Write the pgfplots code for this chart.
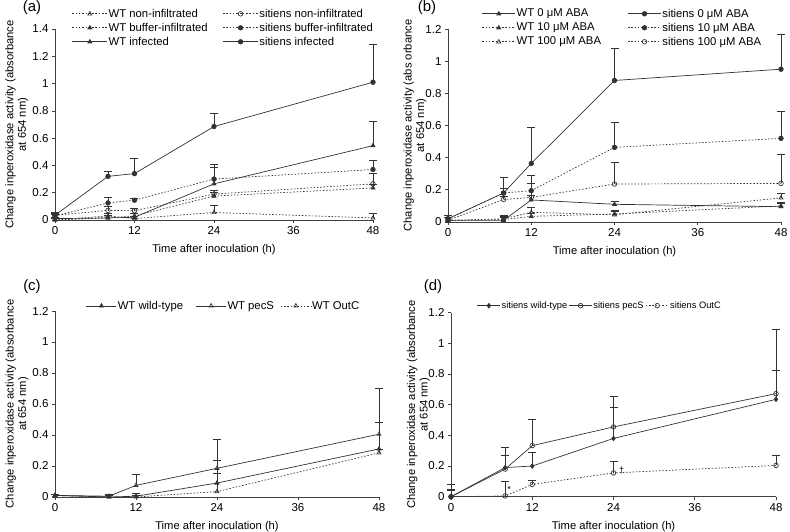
\documentclass[border=0pt]{standalone}
\usepackage{pgfplots}
\pgfplotsset{compat=1.18}
\usepackage{fontspec}
\setmainfont{Liberation Sans}
\pgfplotsset{
  panel/.style={
    scale only axis, axis lines=left, axis line style={-, line width=0.8pt, black!75},
    xmin=0, xmax=48, ymin=0, xtick={0,12,24,36,48},
    tick align=outside, major tick length=3pt, tick style={line width=0.7pt, black!75},
    tick label style={font=\fontsize{11.5}{13}\selectfont},
    /pgf/number format/assume math mode=true,
    xlabel={Time after inoculation (h)},
    xlabel style={yshift=-3pt},
    label style={font=\fontsize{11.2}{12.5}\selectfont},
    ylabel style={align=center, anchor=center},
    clip=false,
    legend style={draw=none, fill=none, font=\fontsize{11.3}{12.5}\selectfont, anchor=north west, inner sep=0pt, outer sep=0pt, nodes={inner sep=1pt}, row sep=2.3pt},
    legend cell align=left,
  },
  limg/.style={legend image code/.code={\draw[mark repeat=2,mark phase=2,##1] plot coordinates {(0pt,0pt) (#1*0.5pt,0pt) (#1*1pt,0pt)};}},
  ser/.style={black!80, line width=0.7pt, mark size=2.3pt,
    error bars/y dir=plus, error bars/y explicit,
    error bars/error bar style={solid, line width=0.6pt, black!80},
    error bars/error mark options={solid, rotate=90, mark size=4pt, line width=0.6pt, black!80}},
  dot/.style={dash pattern=on 1.5pt off 1.8pt},
  ftri/.style={mark=triangle*, mark options={solid, fill=black!80}},
  otri/.style={mark=triangle, mark options={solid, fill=white}},
  fcirc/.style={mark=*, mark options={solid, fill=black!80}},
  ocirc/.style={mark=o, mark options={solid, fill=white}},
  fdia/.style={mark=diamond*, mark options={solid, fill=black!80}},
}
\begin{document}
\begin{tikzpicture}[x=1pt,y=1pt]
\useasboundingbox (0,0) rectangle (790,532);
\node[font=\fontsize{15}{17}\selectfont] at (32,524) {(a)};
\node[font=\fontsize{15}{17}\selectfont] at (427,524) {(b)};
\node[font=\fontsize{15}{17}\selectfont] at (32,245) {(c)};
\node[font=\fontsize{15}{17}\selectfont] at (433,245) {(d)};

% ---------- (a)
\begin{axis}[panel, at={(55pt,312pt)}, anchor=south west, width=318pt, height=191pt,
  ymax=1.4, ytick={0,0.2,...,1.4},
  ylabel={Change inperoxidase activity (absorbance\\at 654 nm)},
  ylabel style={at={(axis description cs:-0.12,0.5)}},
  legend columns=2, limg=35,
  legend style={at={(axis description cs:0.0535,1.11)}}]
\addplot[ser, dot, otri] table[row sep=\\, x=x, y=y, y error=e]{x y e\\ 0 0.0 0.01\\ 8 0.03 0.02\\ 12 0.01 0.02\\ 24 0.055 0.05\\ 48 0.015 0.035\\};
\addlegendentry{\makebox[113pt][l]{WT non-infiltrated}}
\addplot[ser, dot, ocirc] table[row sep=\\, x=x, y=y, y error=e]{x y e\\ 0 0.035 0.02\\ 8 0.07 0.03\\ 12 0.068 0.02\\ 24 0.19 0.03\\ 48 0.265 0.08\\};
\addlegendentry{sitiens non-infiltrated}
\addplot[ser, dot, ftri] table[row sep=\\, x=x, y=y, y error=e]{x y e\\ 0 0.0 0.01\\ 8 0.015 0.02\\ 12 0.03 0.02\\ 24 0.175 0.03\\ 48 0.235 0.03\\};
\addlegendentry{\makebox[113pt][l]{WT buffer-infiltrated}}
\addplot[ser, dot, fcirc] table[row sep=\\, x=x, y=y, y error=e]{x y e\\ 0 0.03 0.02\\ 8 0.125 0.04\\ 12 0.145 0.015\\ 24 0.30 0.11\\ 48 0.37 0.07\\};
\addlegendentry{sitiens buffer-infiltrated}
\addplot[ser, ftri] table[row sep=\\, x=x, y=y, y error=e]{x y e\\ 0 0.01 0.01\\ 8 0.015 0.02\\ 12 0.02 0.03\\ 24 0.265 0.12\\ 48 0.545 0.175\\};
\addlegendentry{\makebox[113pt][l]{WT infected}}
\addplot[ser, fcirc] table[row sep=\\, x=x, y=y, y error=e]{x y e\\ 0 0.035 0.01\\ 8 0.32 0.04\\ 12 0.34 0.11\\ 24 0.685 0.095\\ 48 1.01 0.28\\};
\addlegendentry{sitiens infected}
\end{axis}

% ---------- (b)
\begin{axis}[panel, at={(448pt,310pt)}, anchor=south west, width=333pt, height=193pt,
  ymax=1.2, ytick={0,0.2,...,1.2},
  ylabel={Change inperoxidase activity (abs orbance\\at 654 nm)},
  ylabel style={at={(axis description cs:-0.099,0.5)}},
  legend columns=2, limg=33,
  legend style={at={(axis description cs:0.102,1.109)}}]
\addplot[ser, ftri] table[row sep=\\, x=x, y=y, y error=e]{x y e\\ 0 0.01 0.02\\ 8 0.01 0.02\\ 12 0.137 0.03\\ 24 0.11 0.02\\ 48 0.095 0.02\\};
\addlegendentry{\makebox[110pt][l]{WT 0 μM ABA}}
\addplot[ser, fcirc] table[row sep=\\, x=x, y=y, y error=e]{x y e\\ 0 0.02 0.02\\ 8 0.18 0.097\\ 12 0.364 0.226\\ 24 0.88 0.2\\ 48 0.95 0.22\\};
\addlegendentry{sitiens 0 μM ABA}
\addplot[ser, dot, ftri] table[row sep=\\, x=x, y=y, y error=e]{x y e\\ 0 0.01 0.02\\ 8 0.015 0.02\\ 12 0.035 0.02\\ 24 0.05 0.02\\ 48 0.10 0.02\\};
\addlegendentry{\makebox[110pt][l]{WT 10 μM ABA}}
\addplot[ser, dot, fcirc] table[row sep=\\, x=x, y=y, y error=e]{x y e\\ 0 0.02 0.02\\ 8 0.18 0.03\\ 12 0.195 0.095\\ 24 0.464 0.156\\ 48 0.52 0.17\\};
\addlegendentry{sitiens 10 μM ABA}
\addplot[ser, dot, otri] table[row sep=\\, x=x, y=y, y error=e]{x y e\\ 0 0.01 0.02\\ 8 0.02 0.02\\ 12 0.06 0.03\\ 24 0.045 0.02\\ 48 0.15 0.03\\};
\addlegendentry{\makebox[110pt][l]{WT 100 μM ABA}}
\addplot[ser, dot, ocirc] table[row sep=\\, x=x, y=y, y error=e]{x y e\\ 0 0.01 0.02\\ 8 0.14 0.02\\ 12 0.153 0.09\\ 24 0.236 0.135\\ 48 0.24 0.18\\};
\addlegendentry{sitiens 100 μM ABA}
\end{axis}

% ---------- (c)
\begin{axis}[panel, at={(55pt,35pt)}, anchor=south west, width=324pt, height=186pt,
  ymax=1.2, ytick={0,0.2,...,1.2},
  ylabel={Change inperoxidase activity (absorbance\\at 654 nm)},
  ylabel style={at={(axis description cs:-0.117,0.5)}},
  legend columns=3, limg=30,
  legend style={at={(axis description cs:0.096,1.059)}}]
\addplot[ser, ftri] table[row sep=\\, x=x, y=y, y error=e]{x y e\\ 0 0.01 0.01\\ 8 0.0 0.01\\ 12 0.005 0.02\\ 24 0.09 0.145\\ 48 0.31 0.17\\};
\addlegendentry{\makebox[77pt][l]{WT wild-type}}
\addplot[ser, otri] table[row sep=\\, x=x, y=y, y error=e]{x y e\\ 0 0.01 0.01\\ 8 0.005 0.01\\ 12 0.075 0.07\\ 24 0.185 0.19\\ 48 0.405 0.295\\};
\addlegendentry{\makebox[52pt][l]{WT pecS}}
\addplot[ser, dot, otri] table[row sep=\\, x=x, y=y, y error=e]{x y e\\ 0 0.01 0.01\\ 8 0.0 0.01\\ 12 0.0 0.01\\ 24 0.035 0.12\\ 48 0.285 0.02\\};
\addlegendentry{WT OutC}
\end{axis}

% ---------- (d)
\begin{axis}[panel, at={(451pt,35.3pt)}, anchor=south west, width=325pt, height=184pt,
  ymax=1.2, ytick={0,0.2,...,1.2},
  ylabel={Change inperoxidase activity (absorbance\\at 654 nm)},
  ylabel style={at={(axis description cs:-0.10,0.5)}},
  legend columns=3, limg=23,
  legend style={at={(axis description cs:0.08,1.066)}, font=\fontsize{9.3}{10.5}\selectfont}]
\addplot[ser, fdia] table[row sep=\\, x=x, y=y, y error=e]{x y e\\ 0 0.0 0.04\\ 8 0.19 0.08\\ 12 0.2 0.09\\ 24 0.38 0.2\\ 48 0.635 0.19\\};
\addlegendentry{\makebox[66pt][l]{sitiens wild-type}}
\addplot[ser, ocirc] table[row sep=\\, x=x, y=y, y error=e]{x y e\\ 0 0.0 0.08\\ 8 0.18 0.14\\ 12 0.333 0.17\\ 24 0.455 0.2\\ 48 0.672 0.42\\};
\addlegendentry{\makebox[51pt][l]{sitiens pecS}}
\addplot[ser, dot, ocirc] table[row sep=\\, x=x, y=y, y error=e]{x y e\\ 0 0.0 0.05\\ 8 0.005 0.095\\ 12 0.08 0.025\\ 24 0.155 0.075\\ 48 0.204 0.064\\};
\addlegendentry{sitiens OutC}
\node[font=\fontsize{9}{10}\selectfont] at (axis cs:8.6,0.05) {*};
\node[font=\fontsize{9}{10}\selectfont] at (axis cs:25.2,0.17) {†};
\end{axis}
\end{tikzpicture}
\end{document}
